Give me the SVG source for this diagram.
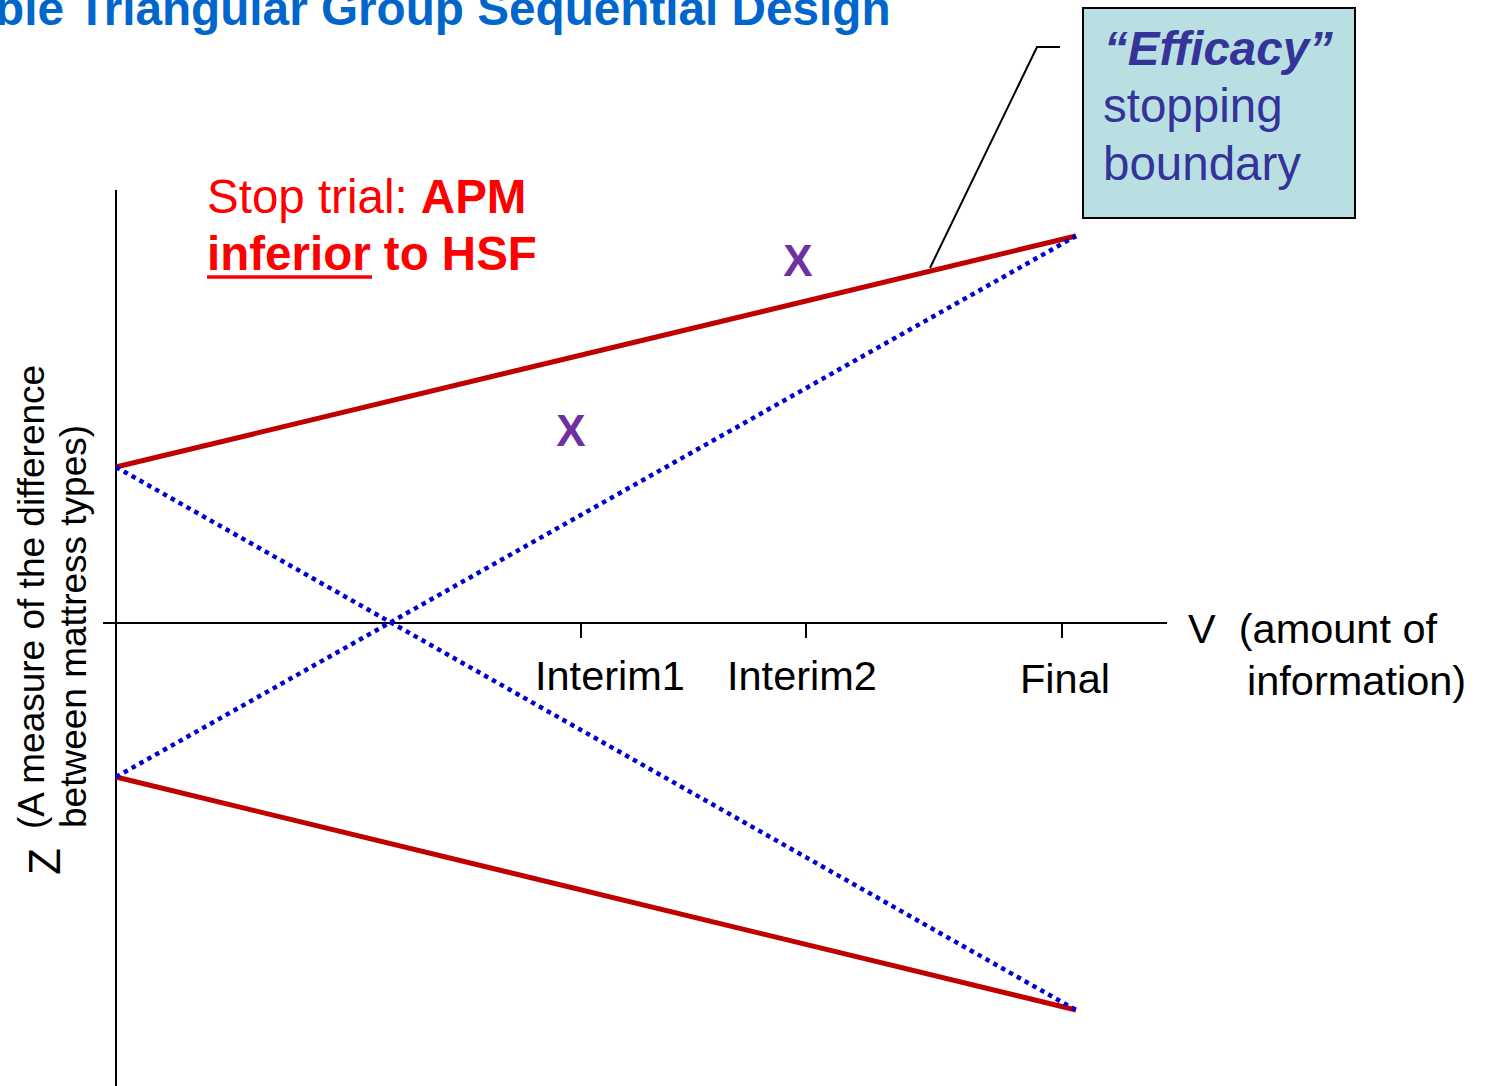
<svg xmlns="http://www.w3.org/2000/svg" width="1486" height="1086" viewBox="0 0 1486 1086">
<style>
text{font-family:"Liberation Sans",Arial,sans-serif;white-space:pre}
.ax{stroke:#000;stroke-width:2;fill:none}
.red{stroke:#C00000;stroke-width:5;fill:none}
.blue{stroke:#0000CC;stroke-width:4.5;fill:none;stroke-dasharray:4.5 4.5}
.lbl{font-size:41.5px;fill:#000}
.rt{font-size:47.5px;fill:#FF0000}
.bx{font-size:47.5px;fill:#333399}
.mk{font-size:44px;font-weight:bold;fill:#7030A0}
</style>
<rect width="1486" height="1086" fill="#fff"/>
<g id="title"><text x="-5" y="25" font-size="47.7" font-weight="bold" fill="#0066CC">ble Triangular Group Sequential Design</text></g>
<g id="axes">
<line class="ax" x1="116" y1="190" x2="116" y2="1086"/>
<line class="ax" x1="103" y1="623" x2="1167" y2="623"/>
<line class="ax" x1="581" y1="623" x2="581" y2="638"/>
<line class="ax" x1="806" y1="623" x2="806" y2="638"/>
<line class="ax" x1="1062" y1="623" x2="1062" y2="638"/>
</g>
<g id="connectors">
<line class="red" x1="116" y1="467" x2="1076" y2="236"/>
<line class="red" x1="116" y1="777" x2="1076" y2="1010"/>
<line class="blue" x1="116" y1="467" x2="1076" y2="1010"/>
<line class="blue" x1="116" y1="777" x2="1076" y2="236"/>
<polyline class="ax" stroke-width="1.5" points="930,268 1037,47 1060,47"/>
</g>
<g id="stop-label">
<text class="rt" x="207" y="213">Stop trial: <tspan font-weight="bold">APM</tspan></text>
<text class="rt" x="207" y="270" font-weight="bold">inferior to HSF</text>
<line x1="207" y1="277" x2="372" y2="277" stroke="#FF0000" stroke-width="3.5"/>
</g>
<g id="efficacy-box">
<rect x="1083" y="8" width="272" height="210" fill="#BADFE2" stroke="#000" stroke-width="2"/>
<text class="bx" x="1104" y="65" font-weight="bold" font-style="italic">“Efficacy”</text>
<text class="bx" x="1103" y="122">stopping</text>
<text class="bx" x="1103" y="180">boundary</text>
</g>
<g id="markers">
<text class="mk" x="798" y="276" text-anchor="middle">X</text>
<text class="mk" x="571" y="446" text-anchor="middle">X</text>
</g>
<g id="x-labels">
<text class="lbl" x="535" y="690">Interim1</text>
<text class="lbl" x="727" y="690">Interim2</text>
<text class="lbl" x="1020" y="693">Final</text>
<text class="lbl" x="1188" y="643">V  (amount of</text>
<text class="lbl" x="1247" y="695">information)</text>
</g>
<g id="y-label">
<text font-size="44" fill="#000" transform="translate(60,875) rotate(-90)">Z</text>
<text font-size="37" fill="#000" transform="translate(44,829) rotate(-90)">(A measure of the difference</text>
<text font-size="37" fill="#000" transform="translate(86,828) rotate(-90)">between mattress types)</text>
</g>
</svg>
